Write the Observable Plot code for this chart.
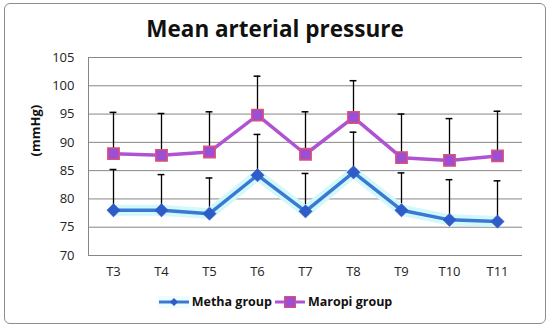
<!DOCTYPE html>
<html>
<head>
<meta charset="utf-8">
<script src="https://cdn.jsdelivr.net/npm/d3@7"></script>
<script src="https://cdn.jsdelivr.net/npm/@observablehq/plot@0.6"></script>
<style>
  html, body { margin: 0; padding: 0; background: #fff; }
  body { width: 550px; height: 329px; position: relative; overflow: hidden; font-family: "Open Sans", sans-serif; }
  #frame { position: absolute; left: 4px; top: 3px; width: 540px; height: 319px; border: 1.5px solid #8c8c8c; border-radius: 6px; }
  #title { position: absolute; left: 0; top: 13px; width: 550px; text-align: center; font-weight: bold; font-size: 22.5px; color: #111; }
  #chart { position: absolute; left: 0; top: 40px; }
  #legend { position: absolute; left: 0; top: 293px; width: 550px; display: flex; justify-content: center; align-items: center; font-weight: bold; font-size: 12.5px; color: #111; }
  #legend .item { display: flex; align-items: center; margin: 0 1px; }
  #legend svg { margin-right: 2px; }
</style>
</head>
<body>
<div id="frame"></div>
<div id="title">Mean arterial pressure</div>
<div id="chart"></div>
<div id="legend"></div>
<script>
const categories = ["T3", "T4", "T5", "T6", "T7", "T8", "T9", "T10", "T11"];
const methaMean = [78.0, 78.0, 77.4, 84.2, 77.8, 84.7, 78.0, 76.3, 76.0];
const methaSD   = [7.2, 6.3, 6.3, 7.2, 6.7, 7.1, 6.6, 7.1, 7.2];
const maropiMean = [88.0, 87.7, 88.3, 94.8, 87.9, 94.4, 87.3, 86.8, 87.6];
const maropiSD   = [7.3, 7.4, 7.1, 6.9, 7.5, 6.5, 7.7, 7.4, 7.9];
const yTicks = [70, 75, 80, 85, 90, 95, 100, 105];
const seriesNames = ["Metha group", "Maropi group"];
const yLabel = "(mmHg)";

const metha = categories.map((c, i) => ({cat: c, mean: methaMean[i], sd: methaSD[i]}));
const maropi = categories.map((c, i) => ({cat: c, mean: maropiMean[i], sd: maropiSD[i]}));

const methaLine = "#3a79d2", methaDot = "#2f5cc6", glow = "#d3f8fb";
const maropiLine = "#b052d4", maropiFill = "#9c4fd2", maropiStroke = "#e8506a";

const plot = Plot.plot({
  width: 550,
  height: 245,
  marginLeft: 88,
  marginRight: 28,
  marginTop: 17,
  marginBottom: 30,
  style: {fontFamily: "Open Sans, sans-serif", fontSize: "13px", color: "#222", background: "transparent"},
  x: {domain: categories, padding: 0, label: null},
  y: {domain: [70, 105], label: null},
  marks: [
    Plot.gridY(yTicks, {stroke: "#868686", strokeOpacity: 1, strokeWidth: 1}),
    Plot.frame({anchor: "left", stroke: "#868686", strokeWidth: 1}),
    Plot.axisY(yTicks, {tickSize: 0, tickPadding: 14, fontSize: 13, label: null}),
    Plot.axisX({tickSize: 0, tickPadding: 11, fontSize: 13, label: null}),
    Plot.text([yLabel], {frameAnchor: "left", rotate: -90, dx: -53, fontWeight: "bold", fontSize: 13, fill: "#111"}),
    // error bars (upward only)
    Plot.ruleX(metha, {x: "cat", y1: "mean", y2: d => d.mean + d.sd, stroke: "#000", strokeWidth: 1.3}),
    Plot.tickY(metha, {x: "cat", y: d => d.mean + d.sd, stroke: "#000", strokeWidth: 1.5, insetLeft: 20.6, insetRight: 20.6}),
    Plot.ruleX(maropi, {x: "cat", y1: "mean", y2: d => d.mean + d.sd, stroke: "#000", strokeWidth: 1.3}),
    Plot.tickY(maropi, {x: "cat", y: d => d.mean + d.sd, stroke: "#000", strokeWidth: 1.5, insetLeft: 20.6, insetRight: 20.6}),
    // Metha glow + line
    Plot.line(metha, {x: "cat", y: "mean", stroke: glow, strokeWidth: 11, strokeLinejoin: "miter", strokeLinecap: "butt"}),
    Plot.line(metha, {x: "cat", y: "mean", stroke: methaLine, strokeWidth: 3.5}),
    Plot.dot(metha, {x: "cat", y: "mean", symbol: "diamond2", r: 6, fill: methaDot, stroke: methaDot, strokeWidth: 0.5}),
    // Maropi line
    Plot.line(maropi, {x: "cat", y: "mean", stroke: maropiLine, strokeWidth: 3.5}),
    Plot.dot(maropi, {x: "cat", y: "mean", symbol: "square", r: 6.5, fill: maropiFill, stroke: maropiStroke, strokeWidth: 1.3})
  ]
});
document.getElementById("chart").appendChild(plot);

// legend
const legend = document.getElementById("legend");
function item(name, kind) {
  const div = document.createElement("div");
  div.className = "item";
  const ns = "http://www.w3.org/2000/svg";
  const svg = document.createElementNS(ns, "svg");
  svg.setAttribute("width", 32); svg.setAttribute("height", 16);
  const line = document.createElementNS(ns, "line");
  line.setAttribute("x1", 1); line.setAttribute("x2", 31); line.setAttribute("y1", 8); line.setAttribute("y2", 8);
  line.setAttribute("stroke-width", 3);
  if (kind === "metha") {
    const bg = document.createElementNS(ns, "rect");
    bg.setAttribute("x", 0); bg.setAttribute("y", 2); bg.setAttribute("width", 32); bg.setAttribute("height", 12);
    bg.setAttribute("fill", "#eefcfd");
    svg.appendChild(bg);
    line.setAttribute("stroke", methaLine);
    svg.appendChild(line);
    const p = document.createElementNS(ns, "path");
    p.setAttribute("d", "M16,4 L20,8 L16,12 L12,8 Z");
    p.setAttribute("fill", methaDot);
    svg.appendChild(p);
  } else {
    line.setAttribute("stroke", maropiLine);
    svg.appendChild(line);
    const r = document.createElementNS(ns, "rect");
    r.setAttribute("x", 10.5); r.setAttribute("y", 2.5); r.setAttribute("width", 11); r.setAttribute("height", 11);
    r.setAttribute("fill", maropiFill); r.setAttribute("stroke", maropiStroke); r.setAttribute("stroke-width", 1);
    svg.appendChild(r);
  }
  div.appendChild(svg);
  const span = document.createElement("span");
  span.textContent = name;
  div.appendChild(span);
  return div;
}
legend.appendChild(item(seriesNames[0], "metha"));
legend.appendChild(item(seriesNames[1], "maropi"));
</script>
</body>
</html>
